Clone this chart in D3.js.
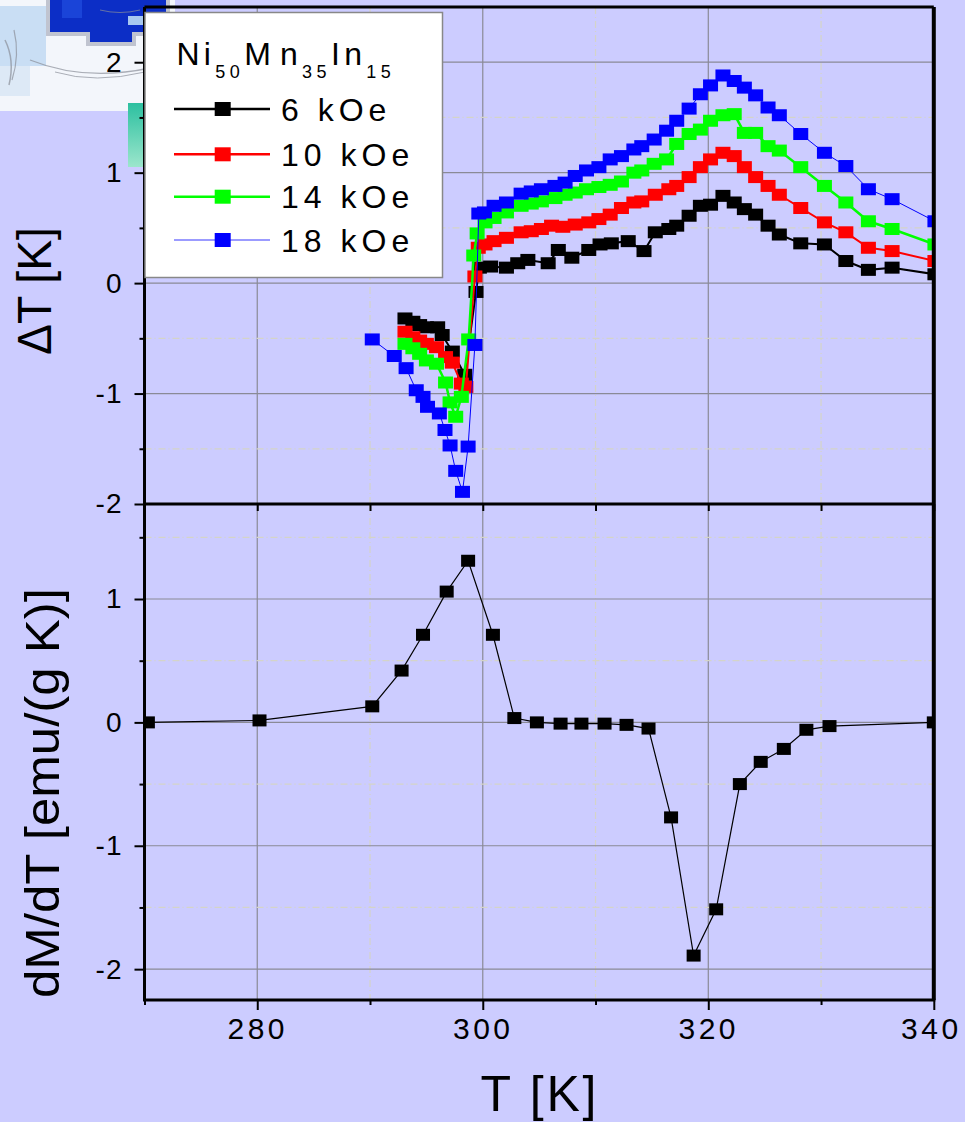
<!DOCTYPE html>
<html><head><meta charset="utf-8">
<script src="https://cdn.jsdelivr.net/npm/d3@7"></script>
<style>html,body{margin:0;padding:0;background:#ccccff;overflow:hidden}svg{display:block;font-family:"Liberation Sans",Arial,Helvetica,sans-serif}</style>
</head><body><svg id="c" width="965" height="1122"></svg>
<script>
// ---------- data ----------
const seriesNames = ["6 kOe", "10 kOe", "14 kOe", "18 kOe"];
const seriesColors = ["#000000", "#ff0000", "#00ff00", "#0000ff"];

const t6 = [293.1,293.8,294.4,295.0,296.0,296.4,297.3,298.4,299.4,299.7,300.7,302.1,303.1,304.0,305.8,306.7,307.9,309.4,310.4,311.4,312.9,314.3,315.3,316.5,317.2,318.3,319.3,320.2,321.3,322.3,323.2,324.2,325.3,326.3,328.2,330.3,332.2,334.2,336.3,340.1];
const dT6 = [-0.32,-0.35,-0.38,-0.40,-0.40,-0.47,-0.62,-0.83,-0.08,0.14,0.15,0.14,0.18,0.21,0.18,0.30,0.23,0.30,0.35,0.36,0.38,0.29,0.46,0.49,0.52,0.61,0.70,0.71,0.79,0.73,0.67,0.62,0.52,0.44,0.36,0.35,0.20,0.12,0.14,0.08];

const t10 = [293.1,293.8,294.4,295.0,295.9,296.7,297.3,298.1,298.5,299.3,299.6,300.2,301.0,302.1,303.4,304.3,305.2,306.1,307.1,308.2,309.4,310.3,311.3,312.3,313.4,314.1,315.3,316.5,317.2,318.3,319.3,320.2,321.3,322.3,323.2,324.2,325.3,326.3,328.2,330.3,332.2,334.2,336.3,340.1];
const dT10 = [-0.44,-0.49,-0.52,-0.55,-0.58,-0.67,-0.72,-0.91,-0.94,0.06,0.32,0.35,0.38,0.41,0.46,0.47,0.49,0.52,0.51,0.53,0.55,0.58,0.62,0.68,0.73,0.74,0.80,0.85,0.88,0.96,1.05,1.12,1.18,1.15,1.05,0.96,0.88,0.80,0.68,0.55,0.46,0.32,0.29,0.20];

const t14 = [293.1,293.8,294.4,295.0,295.9,296.7,297.1,297.6,298.1,298.75,299.2,299.5,300.2,301.0,302.1,303.4,304.3,305.2,306.4,307.3,308.2,309.2,310.3,311.3,312.3,313.4,314.1,315.2,316.3,317.2,318.3,319.3,320.2,321.3,322.3,323.2,324.2,325.3,326.3,328.2,330.3,332.2,334.2,336.3,340.1];
const dT14 = [-0.55,-0.59,-0.64,-0.70,-0.73,-0.90,-1.08,-1.21,-1.03,-0.51,0.25,0.45,0.55,0.59,0.64,0.70,0.72,0.74,0.77,0.80,0.82,0.85,0.87,0.89,0.92,1.00,1.02,1.08,1.12,1.26,1.35,1.39,1.47,1.52,1.53,1.36,1.36,1.24,1.20,1.05,0.88,0.73,0.56,0.49,0.35];

const t18 = [290.2,292.15,293.2,294.1,294.7,295.1,296.15,296.65,297.1,297.6,298.2,298.7,299.3,299.65,300.15,301.0,302.1,303.4,304.3,305.2,306.4,307.3,308.2,309.2,310.3,311.3,312.3,313.4,314.1,315.2,316.3,317.2,318.3,319.3,320.2,321.3,322.3,323.2,324.2,325.3,326.3,328.2,330.3,332.2,334.2,336.3,340.1];
const dT18 = [-0.51,-0.66,-0.77,-0.97,-1.03,-1.12,-1.18,-1.33,-1.47,-1.70,-1.89,-1.48,-0.56,0.63,0.64,0.70,0.73,0.81,0.83,0.85,0.88,0.91,0.97,1.02,1.05,1.12,1.15,1.21,1.24,1.30,1.38,1.47,1.58,1.71,1.79,1.88,1.83,1.77,1.70,1.59,1.52,1.35,1.18,1.06,0.85,0.76,0.56];

const tDM = [270.3,280.2,290.2,292.8,294.7,296.8,298.7,300.9,302.8,304.8,306.9,308.75,310.8,312.75,314.7,316.7,318.7,320.7,322.8,324.65,326.7,328.7,330.75,340.0];
const dMdT = [0.0,0.016,0.13,0.42,0.71,1.06,1.31,0.71,0.035,0.0,-0.01,-0.01,-0.01,-0.02,-0.05,-0.77,-1.89,-1.515,-0.50,-0.32,-0.215,-0.06,-0.03,0.0];

const xTicks = [280, 300, 320, 340];
const xMinor = [270, 290, 310, 330];
const topTicks = [-2, -1, 0, 1, 2];
const topMinor = [-1.5, -0.5, 0.5, 1.5];
const botTicks = [-2, -1, 0, 1];
const botMinor = [-1.5, -0.5, 0.5, 1.5];
const legendTitle = ["Ni", "50", "M", "n", "35", "In", "15"];
const xTitle = "T [K]";
const yTopTitle = "ΔT [K]";
const yBotTitle = "dM/dT [emu/(g K)]";

const topSeries = [[t6, dT6], [t10, dT10], [t14, dT14], [t18, dT18]];
const lineW = [2, 2, 2.5, 1];

// ---------- layout ----------
const L = 144.5, R = 933.8, T0 = 7, MID = 504, B = 1000;
const svg = d3.select("#c");
const x = d3.scaleLinear().domain([270, 340]).range([L, R]);
const yT = d3.scaleLinear().domain([-2, 2.5]).range([MID, T0]);
const yB = d3.scaleLinear().domain([-2.25, 1.77]).range([B, MID]);

// ---------- logo (decorative corner image) ----------
const defs = svg.append("defs");
const g1 = defs.append("linearGradient").attr("id", "teal").attr("x1", 0).attr("x2", 0).attr("y1", 0).attr("y2", 1);
g1.append("stop").attr("offset", 0).attr("stop-color", "#2cc0a0");
g1.append("stop").attr("offset", 1).attr("stop-color", "#9ce6cc");
const logo = svg.append("g");
logo.append("rect").attr("x", 0).attr("y", 0).attr("width", 175).attr("height", 111).attr("fill", "#f3f6fb");
logo.append("rect").attr("x", 0).attr("y", 6).attr("width", 46).attr("height", 60).attr("fill", "#c9def4");
logo.append("rect").attr("x", 0).attr("y", 66).attr("width", 30).attr("height", 30).attr("fill", "#dde9f6");
logo.append("path").attr("d", "M46,0 V36 H86 V46 H136 V36 H170 V0 Z").attr("fill", "#c0c4d0");
logo.append("path").attr("d", "M50,0 V32 H90 V42 H132 V32 H166 V0 Z").attr("fill", "#0c2ec6");
logo.append("rect").attr("x", 128).attr("y", 16).attr("width", 40).attr("height", 9).attr("fill", "#a8c8f0");
logo.append("rect").attr("x", 62).attr("y", 0).attr("width", 20).attr("height", 18).attr("fill", "#1a44d8");
[["M5,40 q10,20 4,45", 1.5], ["M14,30 q6,25 -2,50", 1.2], ["M30,60 q55,22 120,8", 1.3], ["M55,72 q40,12 90,0", 1], ["M100,10 q20,5 40,0", 1]].forEach(([d, w]) => {
  logo.append("path").attr("d", d).attr("fill", "none").attr("stroke", "#8a8f98").attr("stroke-width", w).attr("opacity", 0.7);
});
logo.append("rect").attr("x", 128).attr("y", 103).attr("width", 17).attr("height", 64).attr("fill", "url(#teal)");

// ---------- grids ----------
const grid = svg.append("g");
const majorC = "#8a8a96", minorC = "#d4d4c8", dash = "7,3,1,3";
function vgrid(y0, y1) {
  grid.selectAll(null).data(xTicks.filter(v => v < 340)).enter().append("line")
    .attr("x1", d => x(d)).attr("x2", d => x(d)).attr("y1", y0).attr("y2", y1)
    .attr("stroke", majorC).attr("stroke-width", 1.2);
  grid.selectAll(null).data(xMinor.filter(v => v > 270)).enter().append("line")
    .attr("x1", d => x(d)).attr("x2", d => x(d)).attr("y1", y0).attr("y2", y1)
    .attr("stroke", minorC).attr("stroke-width", 1.2).attr("stroke-dasharray", dash);
}
function hgrid(sc, major, minor) {
  grid.selectAll(null).data(major).enter().append("line")
    .attr("x1", L).attr("x2", R).attr("y1", d => sc(d)).attr("y2", d => sc(d))
    .attr("stroke", majorC).attr("stroke-width", 1.2);
  grid.selectAll(null).data(minor).enter().append("line")
    .attr("x1", L).attr("x2", R).attr("y1", d => sc(d)).attr("y2", d => sc(d))
    .attr("stroke", minorC).attr("stroke-width", 1.2).attr("stroke-dasharray", dash);
}
vgrid(T0, MID); vgrid(MID, B);
hgrid(yT, topTicks.filter(v => v > -2), topMinor);
hgrid(yB, botTicks, botMinor);

// ---------- clip paths ----------
defs.append("clipPath").attr("id", "clipT").append("rect").attr("x", L).attr("y", T0).attr("width", R - L).attr("height", MID - T0);
defs.append("clipPath").attr("id", "clipB").append("rect").attr("x", L).attr("y", MID).attr("width", R - L).attr("height", B - MID);

// ---------- top panel data ----------
const gT = svg.append("g").attr("clip-path", "url(#clipT)");
const mw = 15, mh = 12;
topSeries.forEach(([ts, vs], i) => {
  const pts = ts.map((t, k) => [t, vs[k]]);
  const line = d3.line().x(d => x(d[0])).y(d => yT(d[1]));
  gT.append("path").datum(pts).attr("d", line).attr("fill", "none")
    .attr("stroke", seriesColors[i]).attr("stroke-width", lineW[i]);
  gT.selectAll(null).data(pts).enter().append("rect")
    .attr("x", d => x(d[0]) - mw / 2).attr("y", d => yT(d[1]) - mh / 2)
    .attr("width", mw).attr("height", mh).attr("fill", seriesColors[i]);
});

// ---------- bottom panel data ----------
const gB = svg.append("g").attr("clip-path", "url(#clipB)");
const ptsB = tDM.map((t, k) => [t, dMdT[k]]);
gB.append("path").datum(ptsB).attr("d", d3.line().x(d => x(d[0])).y(d => yB(d[1])))
  .attr("fill", "none").attr("stroke", "#000").attr("stroke-width", 1.2);
gB.selectAll(null).data(ptsB).enter().append("rect")
  .attr("x", d => x(d[0]) - 7).attr("y", d => yB(d[1]) - 6)
  .attr("width", 14).attr("height", 12).attr("fill", "#000");

// ---------- axes ----------
function styleAxis(g, fs, ls) {
  g.select(".domain").remove();
  g.selectAll(".tick line").attr("stroke", "#000").attr("stroke-width", 2);
  g.selectAll(".tick text").attr("fill", "#000").attr("font-size", fs).attr("letter-spacing", ls)
    .attr("font-family", '"Liberation Sans",Arial,sans-serif');
}
const fmt = d => String(d);
let a = svg.append("g").attr("transform", `translate(${L},0)`).call(d3.axisLeft(yT).tickValues(topTicks).tickSize(10).tickPadding(12).tickFormat(fmt));
styleAxis(a, 28, 1);
a = svg.append("g").attr("transform", `translate(${L},0)`).call(d3.axisLeft(yT).tickValues(topMinor).tickSize(5).tickFormat(""));
styleAxis(a, 28, 0);
a = svg.append("g").attr("transform", `translate(${L},0)`).call(d3.axisLeft(yB).tickValues(botTicks).tickSize(10).tickPadding(12).tickFormat(fmt));
styleAxis(a, 28, 1);
a = svg.append("g").attr("transform", `translate(${L},0)`).call(d3.axisLeft(yB).tickValues(botMinor).tickSize(5).tickFormat(""));
styleAxis(a, 28, 0);
a = svg.append("g").attr("transform", `translate(0,${B})`).call(d3.axisBottom(x).tickValues(xTicks).tickSize(10).tickPadding(8).tickFormat(fmt));
styleAxis(a, 30, 3.5);
a.selectAll(".tick text").filter(d => d === 340).attr("dx", -3);
a = svg.append("g").attr("transform", `translate(0,${B})`).call(d3.axisBottom(x).tickValues(xMinor).tickSize(5).tickFormat(""));
styleAxis(a, 30, 0);
a = svg.append("g").attr("transform", `translate(0,${MID})`).call(d3.axisBottom(x).tickValues(xTicks.concat(xMinor)).tickSize(7).tickFormat(""));
styleAxis(a, 30, 0);

// frame
const frame = svg.append("g").attr("stroke", "#000").attr("stroke-width", 3).attr("fill", "none");
frame.append("line").attr("x1", L).attr("x2", R).attr("y1", T0).attr("y2", T0);
frame.append("line").attr("x1", L).attr("x2", R).attr("y1", MID).attr("y2", MID);
frame.append("line").attr("x1", L - 1.5).attr("x2", R + 1.5).attr("y1", B).attr("y2", B);
frame.append("line").attr("x1", L).attr("x2", L).attr("y1", T0).attr("y2", B);
frame.append("line").attr("x1", R).attr("x2", R).attr("y1", T0).attr("y2", B).attr("stroke-width", 4);

// ---------- axis titles ----------
svg.append("text").attr("transform", "translate(51,291) rotate(-90)").attr("text-anchor", "middle")
  .attr("font-size", 48).attr("textLength", 128).attr("lengthAdjust", "spacingAndGlyphs").attr("fill", "#000").text(yTopTitle);
svg.append("text").attr("transform", "translate(59,793) rotate(-90)").attr("text-anchor", "middle")
  .attr("font-size", 48).attr("textLength", 410).attr("lengthAdjust", "spacingAndGlyphs").attr("fill", "#000").text(yBotTitle);
svg.append("text").attr("x", 538.5).attr("y", 1111).attr("text-anchor", "middle")
  .attr("font-size", 50).attr("textLength", 116).attr("lengthAdjust", "spacing").attr("fill", "#000").text(xTitle);

// ---------- legend ----------
const lg = svg.append("g");
lg.append("rect").attr("x", 145).attr("y", 12.5).attr("width", 297.5).attr("height", 265)
  .attr("fill", "#fff").attr("stroke", "#888").attr("stroke-width", 1.5);
const title = lg.append("text").attr("x", 176.5).attr("y", 65).attr("font-size", 32).attr("letter-spacing", 4.2).attr("fill", "#000");
legendTitle.forEach((s, i) => {
  const ts = title.append("tspan").text(s);
  if (i === 1 || i === 4 || i === 6) ts.attr("font-size", 18).attr("dy", 13).attr("letter-spacing", 4.5);
  else if (i === 2 || i === 5) ts.attr("dy", -13);
  if (i === 3) ts.attr("dx", 5);
});
const rowY = [109, 154.3, 196.7, 240];
seriesNames.forEach((n, i) => {
  lg.append("line").attr("x1", 174).attr("x2", 270).attr("y1", rowY[i]).attr("y2", rowY[i])
    .attr("stroke", i === 3 ? "#7a7aff" : seriesColors[i]).attr("stroke-width", i === 3 ? 1.5 : 2.5);
  lg.append("rect").attr("x", 222.7 - 8).attr("y", rowY[i] - 7).attr("width", 16).attr("height", 14).attr("fill", seriesColors[i]);
  lg.append("text").attr("x", 281).attr("y", rowY[i] + 11.5).attr("font-size", 32).attr("letter-spacing", 5)
    .attr("fill", "#000").text(n);
});
</script></body></html>
